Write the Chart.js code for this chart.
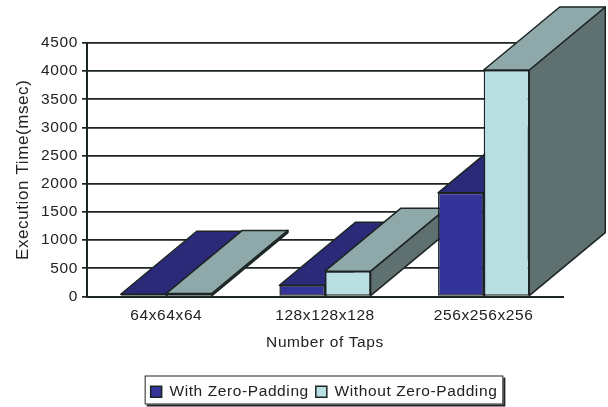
<!DOCTYPE html>
<html>
<head>
<meta charset="utf-8">
<style>
  html, body { margin: 0; padding: 0; background: #fff; }
  canvas { display: block; }
</style>
<script src="https://cdn.jsdelivr.net/npm/chart.js@4/dist/chart.umd.min.js"></script>
</head>
<body>
<canvas id="chart" width="608" height="407"></canvas>
<script>
const CATEGORIES = ['64x64x64', '128x128x128', '256x256x256'];
const WITH_PADDING = [40, 200, 1840];
const WITHOUT_PADDING = [55, 450, 4020];
const SERIES_LABELS = ['With Zero-Padding', 'Without Zero-Padding'];

const FONT_FAMILY = "'Liberation Sans', sans-serif";
const TEXT_COLOR = '#222';
const LINE_COLOR = '#1c2424';

// Extrusion of each bar, in pixels
const DEPTH_X = 76;
const DEPTH_Y = 63;

const FACE_COLORS = [
  { top: '#2a2a78', side: '#20205c' },
  { top: '#8fa9aa', side: '#5f7071' }
];

function face(ctx, points, fill) {
  ctx.beginPath();
  points.forEach(([x, y], i) => (i ? ctx.lineTo(x, y) : ctx.moveTo(x, y)));
  ctx.closePath();
  ctx.fillStyle = fill;
  ctx.fill();
  ctx.stroke();
}

// Top and side faces go in before the fronts, left to right
const extrudeBars = {
  id: 'extrudeBars',
  beforeDatasetsDraw(chart) {
    const ctx = chart.ctx;
    ctx.save();
    ctx.strokeStyle = LINE_COLOR;
    ctx.lineWidth = 1.5;
    ctx.lineJoin = 'round';
    CATEGORIES.forEach((_, i) => {
      chart.data.datasets.forEach((ds, d) => {
        const bar = chart.getDatasetMeta(d).data[i];
        const left = bar.x - bar.width / 2;
        const right = bar.x + bar.width / 2;
        const colors = FACE_COLORS[d];
        face(ctx, [
          [right, bar.y], [right + DEPTH_X, bar.y - DEPTH_Y],
          [right + DEPTH_X, bar.base - DEPTH_Y], [right, bar.base]
        ], colors.side);
        face(ctx, [
          [left, bar.y], [left + DEPTH_X, bar.y - DEPTH_Y],
          [right + DEPTH_X, bar.y - DEPTH_Y], [right, bar.y]
        ], colors.top);
      });
    });
    ctx.restore();
  }
};

// Wider tracking for all chart text
const textSpacing = {
  id: 'textSpacing',
  beforeUpdate(chart) { chart.ctx.letterSpacing = '0.6px'; },
  beforeDraw(chart) { chart.ctx.letterSpacing = '0.6px'; }
};

// Centres the legend under the plot, then frames its items with a hard shadow
const legendFrame = {
  id: 'legendFrame',
  afterUpdate(chart) {
    const legend = chart.legend;
    const area = chart.chartArea;
    const dx = (area.left + area.right) / 2 - (legend.left + legend.right) / 2 - 1;
    legend.left += dx;
    legend.right += dx;
    legend.top += 4.5;
    legend.bottom += 4.5;
    legend.adjustHitBoxes();
  },
  beforeDraw(chart) {
    const legend = chart.legend;
    const boxes = legend.legendHitBoxes;
    const last = boxes[boxes.length - 1];
    const left = boxes[0].left - 6;
    const width = last.left + last.width + 6 - left;
    const top = legend.top - 1.5;
    const height = 29;
    const ctx = chart.ctx;
    ctx.save();
    ctx.fillStyle = '#222';
    ctx.fillRect(left + 2, top + 2, width, height);
    ctx.fillStyle = '#fff';
    ctx.strokeStyle = '#222';
    ctx.lineWidth = 1;
    ctx.fillRect(left, top, width, height);
    ctx.strokeRect(left + 0.5, top + 0.5, width - 1, height - 1);
    ctx.restore();
  }
};

new Chart(document.getElementById('chart'), {
  type: 'bar',
  data: {
    labels: CATEGORIES,
    datasets: [
      { label: SERIES_LABELS[0], data: WITH_PADDING, backgroundColor: '#333399' },
      { label: SERIES_LABELS[1], data: WITHOUT_PADDING, backgroundColor: '#b9dfe3' }
    ]
  },
  plugins: [textSpacing, extrudeBars, legendFrame],
  options: {
    responsive: false,
    animation: false,
    clip: false,
    categoryPercentage: 0.575,
    barPercentage: 1,
    layout: { padding: { left: 13, right: 45, top: 43, bottom: 2 } },
    elements: {
      bar: { borderColor: LINE_COLOR, borderWidth: 1.5, borderSkipped: false }
    },
    plugins: {
      tooltip: { enabled: false },
      legend: {
        position: 'bottom',
        labels: {
          color: TEXT_COLOR,
          font: { family: FONT_FAMILY, size: 15.5 },
          boxWidth: 11,
          boxHeight: 11,
          padding: 7
        }
      }
    },
    scales: {
      x: {
        afterFit(scale) { scale.height = 76; },
        grid: { display: false },
        border: { color: LINE_COLOR, width: 2 },
        ticks: {
          color: TEXT_COLOR,
          font: { family: FONT_FAMILY, size: 15.5 },
          maxRotation: 0,
          padding: 2
        },
        title: {
          display: true,
          text: 'Number of Taps',
          color: TEXT_COLOR,
          font: { family: FONT_FAMILY, size: 15.5 },
          padding: { top: 4, bottom: 20 }
        }
      },
      y: {
        min: 0,
        max: 4500,
        afterFit(scale) { scale.width = 74; },
        grid: { color: LINE_COLOR, lineWidth: 1.7, tickLength: 5 },
        border: { color: LINE_COLOR, width: 2 },
        ticks: {
          stepSize: 500,
          color: TEXT_COLOR,
          font: { family: FONT_FAMILY, size: 15.5 },
          padding: 4,
          callback: (v) => String(v)
        },
        title: {
          display: true,
          text: 'Execution Time(msec)',
          color: TEXT_COLOR,
          font: { family: FONT_FAMILY, size: 17 },
          padding: 0
        }
      }
    }
  }
});
</script>
</body>
</html>
